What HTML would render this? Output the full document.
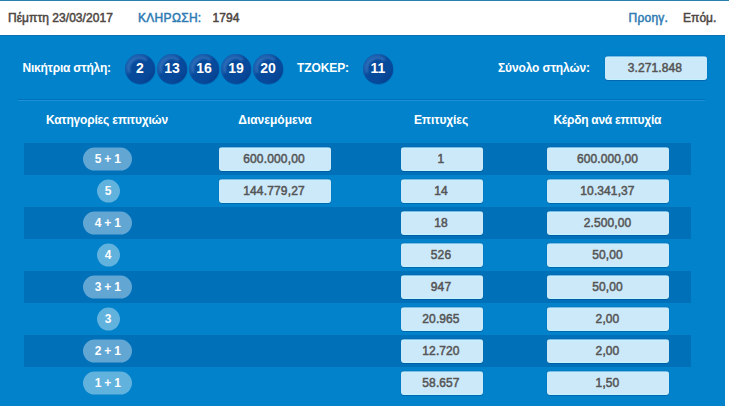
<!DOCTYPE html>
<html><head><meta charset="utf-8">
<style>
html,body{margin:0;padding:0;}
body{width:729px;height:406px;overflow:hidden;background:#fff;font-family:"Liberation Sans",sans-serif;position:relative;}
.abs{position:absolute;white-space:nowrap;}
#topline{left:0;top:0;width:729px;height:1px;background:#2b7fae;}
#panel{left:0;top:35px;width:725px;height:371px;background:#0182ca;border-top:1px solid #0a73b4;box-sizing:border-box;}
.hd{top:11px;font-size:12px;line-height:14px;color:#4e4743;-webkit-text-stroke:0.5px currentColor;letter-spacing:0.05px;}
.wl{font-size:12px;font-weight:bold;color:#fff;line-height:14px;}
.box{background:linear-gradient(#7dbbe2 0,#7dbbe2 1px,#c6f0ff 1px,#c6f0ff 2px,#cce9fa 2px,#cce9fa 23px,#c4f3ff 23px);border-radius:3px;color:#555;-webkit-text-stroke:0.5px #555;font-size:12px;text-align:center;height:24px;line-height:25px;letter-spacing:0.1px;box-sizing:border-box;box-shadow:0 0 1px rgba(0,50,110,0.6),0 1px 0 rgba(0,60,130,0.3);}
.stripe{left:24px;width:667px;height:32px;background:#0071b9;}
.pill{background:rgba(255,255,255,0.385);transform:translateY(-0.4px);color:#fff;font-weight:bold;font-size:12px;text-align:center;height:23px;line-height:22px;border-radius:12px;letter-spacing:-0.25px;}
.p2{left:83.4px;width:48.6px;}
.p1{left:96.5px;width:23px;}
.th{top:113px;width:200px;text-align:center;}
#divider{left:18px;top:99px;width:687px;height:0;border-top:1px solid #0071b8;border-bottom:1px solid #1b92d9;}
</style></head><body>
<svg width="0" height="0" style="position:absolute"><defs>
<linearGradient id="lg" x1="0.15" y1="0.15" x2="0.85" y2="0.85"><stop offset="0" stop-color="#0650a4" stop-opacity="0"/><stop offset="0.6" stop-color="#0650a4" stop-opacity="0"/><stop offset="1" stop-color="#062f7a" stop-opacity="0.4"/></linearGradient><radialGradient id="rg" cx="0.62" cy="0.62" r="0.75"><stop offset="0.68" stop-color="#2d73be" stop-opacity="0"/><stop offset="0.8" stop-color="#2d73be" stop-opacity="0.4"/><stop offset="0.9" stop-color="#1e73c3" stop-opacity="0.65"/></radialGradient>
<filter id="bl" x="-30%" y="-30%" width="160%" height="160%"><feGaussianBlur stdDeviation="0.7"/></filter>
<filter id="bl2" x="-30%" y="-30%" width="160%" height="160%"><feGaussianBlur stdDeviation="1.1"/></filter><clipPath id="cp"><circle cx="15" cy="15" r="15"/></clipPath>
</defs></svg>
<div class="abs" id="topline"></div>
<div class="abs hd" style="left:8px;">Πέμπτη 23/03/2017</div>
<div class="abs hd" style="left:138px;color:#2f7cb4;letter-spacing:0.3px;">ΚΛΗΡΩΣΗ:</div>
<div class="abs hd" style="left:212.5px;">1794</div>
<div class="abs hd" style="left:628.5px;color:#2f7cb4;letter-spacing:0.25px;">Προηγ.</div>
<div class="abs hd" style="left:683px;">Επόμ.</div>
<div class="abs" id="panel"></div>
<div class="abs wl" style="left:22.5px;top:61px;letter-spacing:-0.23px;">Νικήτρια στήλη:</div>
<svg class="abs" style="left:124px;top:53px;" width="33" height="33" viewBox="-1 -1 33 33"><circle cx="15.5" cy="15.5" r="15.2" fill="#0a5cae" fill-opacity="0.6" filter="url(#bl)"/><circle cx="15" cy="15" r="15" fill="#074a9c"/><circle cx="15" cy="15" r="15" fill="url(#lg)"/><circle cx="15" cy="15" r="15" fill="url(#rg)"/><g clip-path="url(#cp)"><path d="M 4.02 17.7 A 11.3 11.3 0 0 1 20.9 5.36" fill="none" stroke="#4f8bd0" stroke-opacity="0.6" stroke-width="2.6" stroke-linecap="round" filter="url(#bl2)"/></g><text x="15" y="19.1" text-anchor="middle" font-family="Liberation Sans" font-weight="bold" font-size="14" fill="#fff">2</text></svg>
<svg class="abs" style="left:156px;top:53px;" width="33" height="33" viewBox="-1 -1 33 33"><circle cx="15.5" cy="15.5" r="15.2" fill="#0a5cae" fill-opacity="0.6" filter="url(#bl)"/><circle cx="15" cy="15" r="15" fill="#074a9c"/><circle cx="15" cy="15" r="15" fill="url(#lg)"/><circle cx="15" cy="15" r="15" fill="url(#rg)"/><g clip-path="url(#cp)"><path d="M 4.02 17.7 A 11.3 11.3 0 0 1 20.9 5.36" fill="none" stroke="#4f8bd0" stroke-opacity="0.6" stroke-width="2.6" stroke-linecap="round" filter="url(#bl2)"/></g><text x="15" y="19.1" text-anchor="middle" font-family="Liberation Sans" font-weight="bold" font-size="14" fill="#fff">13</text></svg>
<svg class="abs" style="left:188px;top:53px;" width="33" height="33" viewBox="-1 -1 33 33"><circle cx="15.5" cy="15.5" r="15.2" fill="#0a5cae" fill-opacity="0.6" filter="url(#bl)"/><circle cx="15" cy="15" r="15" fill="#074a9c"/><circle cx="15" cy="15" r="15" fill="url(#lg)"/><circle cx="15" cy="15" r="15" fill="url(#rg)"/><g clip-path="url(#cp)"><path d="M 4.02 17.7 A 11.3 11.3 0 0 1 20.9 5.36" fill="none" stroke="#4f8bd0" stroke-opacity="0.6" stroke-width="2.6" stroke-linecap="round" filter="url(#bl2)"/></g><text x="15" y="19.1" text-anchor="middle" font-family="Liberation Sans" font-weight="bold" font-size="14" fill="#fff">16</text></svg>
<svg class="abs" style="left:220px;top:53px;" width="33" height="33" viewBox="-1 -1 33 33"><circle cx="15.5" cy="15.5" r="15.2" fill="#0a5cae" fill-opacity="0.6" filter="url(#bl)"/><circle cx="15" cy="15" r="15" fill="#074a9c"/><circle cx="15" cy="15" r="15" fill="url(#lg)"/><circle cx="15" cy="15" r="15" fill="url(#rg)"/><g clip-path="url(#cp)"><path d="M 4.02 17.7 A 11.3 11.3 0 0 1 20.9 5.36" fill="none" stroke="#4f8bd0" stroke-opacity="0.6" stroke-width="2.6" stroke-linecap="round" filter="url(#bl2)"/></g><text x="15" y="19.1" text-anchor="middle" font-family="Liberation Sans" font-weight="bold" font-size="14" fill="#fff">19</text></svg>
<svg class="abs" style="left:252px;top:53px;" width="33" height="33" viewBox="-1 -1 33 33"><circle cx="15.5" cy="15.5" r="15.2" fill="#0a5cae" fill-opacity="0.6" filter="url(#bl)"/><circle cx="15" cy="15" r="15" fill="#074a9c"/><circle cx="15" cy="15" r="15" fill="url(#lg)"/><circle cx="15" cy="15" r="15" fill="url(#rg)"/><g clip-path="url(#cp)"><path d="M 4.02 17.7 A 11.3 11.3 0 0 1 20.9 5.36" fill="none" stroke="#4f8bd0" stroke-opacity="0.6" stroke-width="2.6" stroke-linecap="round" filter="url(#bl2)"/></g><text x="15" y="19.1" text-anchor="middle" font-family="Liberation Sans" font-weight="bold" font-size="14" fill="#fff">20</text></svg>
<svg class="abs" style="left:362px;top:53px;" width="33" height="33" viewBox="-1 -1 33 33"><circle cx="15.5" cy="15.5" r="15.2" fill="#0a5cae" fill-opacity="0.6" filter="url(#bl)"/><circle cx="15" cy="15" r="15" fill="#074a9c"/><circle cx="15" cy="15" r="15" fill="url(#lg)"/><circle cx="15" cy="15" r="15" fill="url(#rg)"/><g clip-path="url(#cp)"><path d="M 4.02 17.7 A 11.3 11.3 0 0 1 20.9 5.36" fill="none" stroke="#4f8bd0" stroke-opacity="0.6" stroke-width="2.6" stroke-linecap="round" filter="url(#bl2)"/></g><text x="15" y="19.1" text-anchor="middle" font-family="Liberation Sans" font-weight="bold" font-size="14" fill="#fff">11</text></svg>
<div class="abs wl" style="left:297px;top:61px;letter-spacing:-0.1px;">ΤΖΟΚΕΡ:</div>
<div class="abs wl" style="left:498px;top:61px;letter-spacing:-0.12px;">Σύνολο στηλών:</div>
<div class="abs box" style="left:605px;top:56px;width:102px;padding-right:2px;">3.271.848</div>
<div class="abs" id="divider"></div>
<div class="abs wl th" style="left:7px;letter-spacing:-0.2px;">Κατηγορίες επιτυχιών</div>
<div class="abs wl th" style="left:175px;">Διανεμόμενα</div>
<div class="abs wl th" style="left:341px;letter-spacing:-0.1px;">Επιτυχίες</div>
<div class="abs wl th" style="left:507.3px;letter-spacing:-0.26px;">Κέρδη ανά επιτυχία</div>
<div class="abs stripe" style="top:143px;"></div>
<div class="abs stripe" style="top:207px;"></div>
<div class="abs stripe" style="top:271px;"></div>
<div class="abs stripe" style="top:335px;"></div>
<div class="abs pill p2" style="top:148px;">5 + 1</div>
<div class="abs pill p1" style="top:180px;">5</div>
<div class="abs pill p2" style="top:212px;">4 + 1</div>
<div class="abs pill p1" style="top:244px;">4</div>
<div class="abs pill p2" style="top:276px;">3 + 1</div>
<div class="abs pill p1" style="top:308px;">3</div>
<div class="abs pill p2" style="top:340px;">2 + 1</div>
<div class="abs pill p2" style="top:372px;">1 + 1</div>
<div class="abs box" style="left:219px;top:147px;width:112px;padding-right:2px;letter-spacing:0.15px;">600.000,00</div>
<div class="abs box" style="left:219px;top:179px;width:112px;padding-right:2px;letter-spacing:0.15px;">144.779,27</div>
<div class="abs box" style="left:401px;top:147px;width:82px;padding-right:2px;">1</div>
<div class="abs box" style="left:401px;top:179px;width:82px;padding-right:2px;">14</div>
<div class="abs box" style="left:401px;top:211px;width:82px;padding-right:2px;">18</div>
<div class="abs box" style="left:401px;top:243px;width:82px;padding-right:2px;">526</div>
<div class="abs box" style="left:401px;top:275px;width:82px;padding-right:2px;">947</div>
<div class="abs box" style="left:401px;top:307px;width:82px;padding-right:2px;">20.965</div>
<div class="abs box" style="left:401px;top:339px;width:82px;padding-right:2px;">12.720</div>
<div class="abs box" style="left:401px;top:371px;width:82px;padding-right:2px;">58.657</div>
<div class="abs box" style="left:547px;top:147px;width:122px;padding-right:1px;">600.000,00</div>
<div class="abs box" style="left:547px;top:179px;width:122px;padding-right:1px;">10.341,37</div>
<div class="abs box" style="left:547px;top:211px;width:122px;padding-right:1px;">2.500,00</div>
<div class="abs box" style="left:547px;top:243px;width:122px;padding-right:1px;">50,00</div>
<div class="abs box" style="left:547px;top:275px;width:122px;padding-right:1px;">50,00</div>
<div class="abs box" style="left:547px;top:307px;width:122px;padding-right:1px;">2,00</div>
<div class="abs box" style="left:547px;top:339px;width:122px;padding-right:1px;">2,00</div>
<div class="abs box" style="left:547px;top:371px;width:122px;padding-right:1px;">1,50</div>
</body></html>
